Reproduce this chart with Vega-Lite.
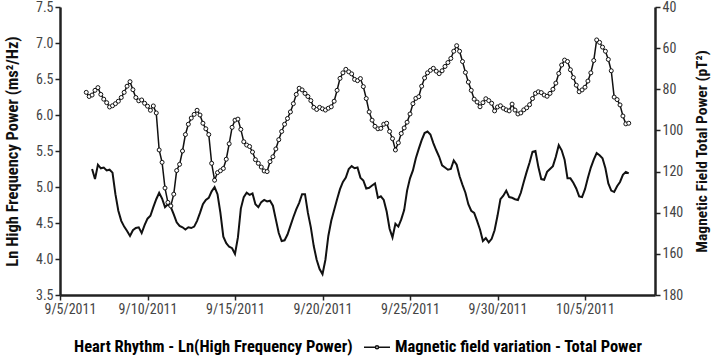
{
  "$schema": "https://vega.github.io/schema/vega-lite/v6.json",
  "width": 595,
  "height": 288,
  "autosize": {"type": "none"},
  "padding": {"left": 60, "top": 7, "right": 65, "bottom": 61},
  "background": "white",
  "config": {
    "view": {"stroke": null},
    "font": "Roboto Condensed, Liberation Sans Narrow, DejaVu Sans Condensed, Roboto, sans-serif",
    "axis": {
      "labelFontSize": 14,
      "labelColor": "#444",
      "domainColor": "#222",
      "domainWidth": 2.5,
      "tickColor": "#222",
      "tickWidth": 1.5,
      "tickSize": 5,
      "grid": false,
      "titleFontSize": 16,
      "titleFontWeight": "bold",
      "titleColor": "#111",
      "labelPadding": 2
    }
  },
  "data": {"values": [
    {"t":"2011-09-06T12:00","mf":81.5,"hr":null},
    {"t":"2011-09-06T16:00","mf":83.5,"hr":null},
    {"t":"2011-09-06T20:00","mf":82.8,"hr":5.25},
    {"t":"2011-09-07T00:00","mf":80.5,"hr":5.11},
    {"t":"2011-09-07T04:00","mf":79.2,"hr":5.31},
    {"t":"2011-09-07T08:00","mf":82.5,"hr":5.26},
    {"t":"2011-09-07T12:00","mf":84.8,"hr":5.27},
    {"t":"2011-09-07T16:00","mf":86.5,"hr":5.23},
    {"t":"2011-09-07T20:00","mf":88.6,"hr":5.24},
    {"t":"2011-09-08T00:00","mf":88.0,"hr":5.20},
    {"t":"2011-09-08T04:00","mf":87.0,"hr":4.90},
    {"t":"2011-09-08T08:00","mf":85.8,"hr":4.67},
    {"t":"2011-09-08T12:00","mf":84.0,"hr":4.53},
    {"t":"2011-09-08T16:00","mf":81.5,"hr":4.45},
    {"t":"2011-09-08T20:00","mf":78.5,"hr":4.39},
    {"t":"2011-09-09T00:00","mf":76.3,"hr":4.32},
    {"t":"2011-09-09T04:00","mf":80.2,"hr":4.40},
    {"t":"2011-09-09T08:00","mf":84.0,"hr":4.43},
    {"t":"2011-09-09T12:00","mf":85.6,"hr":4.44},
    {"t":"2011-09-09T16:00","mf":85.2,"hr":4.36},
    {"t":"2011-09-09T20:00","mf":86.8,"hr":4.47},
    {"t":"2011-09-10T00:00","mf":88.2,"hr":4.56},
    {"t":"2011-09-10T04:00","mf":90.2,"hr":4.60},
    {"t":"2011-09-10T08:00","mf":88.1,"hr":4.72},
    {"t":"2011-09-10T12:00","mf":91.5,"hr":4.83},
    {"t":"2011-09-10T16:00","mf":109.5,"hr":4.92},
    {"t":"2011-09-10T20:00","mf":115.5,"hr":4.84},
    {"t":"2011-09-11T00:00","mf":128.0,"hr":4.72},
    {"t":"2011-09-11T04:00","mf":135.0,"hr":4.76},
    {"t":"2011-09-11T08:00","mf":136.7,"hr":4.72},
    {"t":"2011-09-11T12:00","mf":131.0,"hr":4.62},
    {"t":"2011-09-11T16:00","mf":119.5,"hr":4.51},
    {"t":"2011-09-11T20:00","mf":116.5,"hr":4.46},
    {"t":"2011-09-12T00:00","mf":110.0,"hr":4.44},
    {"t":"2011-09-12T04:00","mf":102.0,"hr":4.41},
    {"t":"2011-09-12T08:00","mf":97.0,"hr":4.44},
    {"t":"2011-09-12T12:00","mf":94.0,"hr":4.43},
    {"t":"2011-09-12T16:00","mf":92.2,"hr":4.45},
    {"t":"2011-09-12T20:00","mf":90.2,"hr":4.53},
    {"t":"2011-09-13T00:00","mf":92.5,"hr":4.64},
    {"t":"2011-09-13T04:00","mf":96.5,"hr":4.76},
    {"t":"2011-09-13T08:00","mf":99.2,"hr":4.82},
    {"t":"2011-09-13T12:00","mf":102.0,"hr":4.85},
    {"t":"2011-09-13T16:00","mf":116.0,"hr":4.94},
    {"t":"2011-09-13T20:00","mf":124.2,"hr":5.00},
    {"t":"2011-09-14T00:00","mf":120.5,"hr":4.90},
    {"t":"2011-09-14T04:00","mf":119.6,"hr":4.64},
    {"t":"2011-09-14T08:00","mf":118.5,"hr":4.31},
    {"t":"2011-09-14T12:00","mf":114.0,"hr":4.22},
    {"t":"2011-09-14T16:00","mf":106.5,"hr":4.17},
    {"t":"2011-09-14T20:00","mf":98.5,"hr":4.15},
    {"t":"2011-09-15T00:00","mf":95.0,"hr":4.07},
    {"t":"2011-09-15T04:00","mf":94.5,"hr":4.30},
    {"t":"2011-09-15T08:00","mf":99.5,"hr":4.70},
    {"t":"2011-09-15T12:00","mf":105.5,"hr":4.86},
    {"t":"2011-09-15T16:00","mf":107.1,"hr":4.92},
    {"t":"2011-09-15T20:00","mf":107.8,"hr":4.89},
    {"t":"2011-09-16T00:00","mf":110.5,"hr":4.91},
    {"t":"2011-09-16T04:00","mf":114.2,"hr":4.76},
    {"t":"2011-09-16T08:00","mf":116.0,"hr":4.72},
    {"t":"2011-09-16T12:00","mf":117.8,"hr":4.79},
    {"t":"2011-09-16T16:00","mf":119.7,"hr":4.82},
    {"t":"2011-09-16T20:00","mf":120.0,"hr":4.80},
    {"t":"2011-09-17T00:00","mf":115.2,"hr":4.81},
    {"t":"2011-09-17T04:00","mf":112.8,"hr":4.74},
    {"t":"2011-09-17T08:00","mf":109.0,"hr":4.55},
    {"t":"2011-09-17T12:00","mf":104.5,"hr":4.36},
    {"t":"2011-09-17T16:00","mf":100.5,"hr":4.25},
    {"t":"2011-09-17T20:00","mf":97.0,"hr":4.26},
    {"t":"2011-09-18T00:00","mf":94.2,"hr":4.34},
    {"t":"2011-09-18T04:00","mf":91.0,"hr":4.46},
    {"t":"2011-09-18T08:00","mf":87.0,"hr":4.58},
    {"t":"2011-09-18T12:00","mf":82.5,"hr":4.69},
    {"t":"2011-09-18T16:00","mf":79.5,"hr":4.78},
    {"t":"2011-09-18T20:00","mf":80.3,"hr":4.90},
    {"t":"2011-09-19T00:00","mf":82.0,"hr":4.90},
    {"t":"2011-09-19T04:00","mf":83.5,"hr":4.64},
    {"t":"2011-09-19T08:00","mf":85.5,"hr":4.44},
    {"t":"2011-09-19T12:00","mf":88.8,"hr":4.18},
    {"t":"2011-09-19T16:00","mf":89.8,"hr":3.99},
    {"t":"2011-09-19T20:00","mf":88.8,"hr":3.86},
    {"t":"2011-09-20T00:00","mf":89.5,"hr":3.79},
    {"t":"2011-09-20T04:00","mf":90.1,"hr":3.99},
    {"t":"2011-09-20T08:00","mf":89.2,"hr":4.32},
    {"t":"2011-09-20T12:00","mf":88.5,"hr":4.53},
    {"t":"2011-09-20T16:00","mf":85.8,"hr":4.68},
    {"t":"2011-09-20T20:00","mf":80.5,"hr":4.83},
    {"t":"2011-09-21T00:00","mf":74.7,"hr":4.97},
    {"t":"2011-09-21T04:00","mf":72.0,"hr":5.07},
    {"t":"2011-09-21T08:00","mf":70.3,"hr":5.13},
    {"t":"2011-09-21T12:00","mf":71.5,"hr":5.25},
    {"t":"2011-09-21T16:00","mf":72.5,"hr":5.29},
    {"t":"2011-09-21T20:00","mf":75.2,"hr":5.26},
    {"t":"2011-09-22T00:00","mf":75.8,"hr":5.27},
    {"t":"2011-09-22T04:00","mf":74.8,"hr":5.13},
    {"t":"2011-09-22T08:00","mf":78.7,"hr":5.09},
    {"t":"2011-09-22T12:00","mf":84.5,"hr":4.98},
    {"t":"2011-09-22T16:00","mf":91.0,"hr":4.99},
    {"t":"2011-09-22T20:00","mf":95.0,"hr":5.02},
    {"t":"2011-09-23T00:00","mf":98.0,"hr":5.05},
    {"t":"2011-09-23T04:00","mf":99.2,"hr":4.85},
    {"t":"2011-09-23T08:00","mf":99.0,"hr":4.87},
    {"t":"2011-09-23T12:00","mf":97.0,"hr":4.82},
    {"t":"2011-09-23T16:00","mf":96.5,"hr":4.66},
    {"t":"2011-09-23T20:00","mf":100.5,"hr":4.42},
    {"t":"2011-09-24T00:00","mf":104.0,"hr":4.30},
    {"t":"2011-09-24T04:00","mf":109.5,"hr":4.49},
    {"t":"2011-09-24T08:00","mf":106.0,"hr":4.45},
    {"t":"2011-09-24T12:00","mf":101.5,"hr":4.55},
    {"t":"2011-09-24T16:00","mf":98.8,"hr":4.68},
    {"t":"2011-09-24T20:00","mf":96.0,"hr":4.95},
    {"t":"2011-09-25T00:00","mf":92.0,"hr":5.12},
    {"t":"2011-09-25T04:00","mf":87.0,"hr":5.23},
    {"t":"2011-09-25T08:00","mf":84.4,"hr":5.40},
    {"t":"2011-09-25T12:00","mf":83.6,"hr":5.53},
    {"t":"2011-09-25T16:00","mf":78.5,"hr":5.65},
    {"t":"2011-09-25T20:00","mf":74.5,"hr":5.75},
    {"t":"2011-09-26T00:00","mf":72.0,"hr":5.77},
    {"t":"2011-09-26T04:00","mf":70.8,"hr":5.73},
    {"t":"2011-09-26T08:00","mf":69.8,"hr":5.61},
    {"t":"2011-09-26T12:00","mf":71.2,"hr":5.51},
    {"t":"2011-09-26T16:00","mf":72.4,"hr":5.42},
    {"t":"2011-09-26T20:00","mf":71.0,"hr":5.30},
    {"t":"2011-09-27T00:00","mf":68.9,"hr":5.27},
    {"t":"2011-09-27T04:00","mf":67.0,"hr":5.24},
    {"t":"2011-09-27T08:00","mf":65.0,"hr":5.25},
    {"t":"2011-09-27T12:00","mf":61.5,"hr":5.37},
    {"t":"2011-09-27T16:00","mf":58.8,"hr":5.31},
    {"t":"2011-09-27T20:00","mf":61.5,"hr":5.15},
    {"t":"2011-09-28T00:00","mf":66.5,"hr":5.03},
    {"t":"2011-09-28T04:00","mf":71.8,"hr":4.92},
    {"t":"2011-09-28T08:00","mf":76.5,"hr":4.76},
    {"t":"2011-09-28T12:00","mf":80.5,"hr":4.67},
    {"t":"2011-09-28T16:00","mf":84.8,"hr":4.64},
    {"t":"2011-09-28T20:00","mf":86.2,"hr":4.53},
    {"t":"2011-09-29T00:00","mf":88.5,"hr":4.41},
    {"t":"2011-09-29T04:00","mf":86.5,"hr":4.25},
    {"t":"2011-09-29T08:00","mf":84.6,"hr":4.29},
    {"t":"2011-09-29T12:00","mf":85.5,"hr":4.23},
    {"t":"2011-09-29T16:00","mf":86.8,"hr":4.28},
    {"t":"2011-09-29T20:00","mf":90.5,"hr":4.40},
    {"t":"2011-09-30T00:00","mf":88.6,"hr":4.60},
    {"t":"2011-09-30T04:00","mf":88.0,"hr":4.83},
    {"t":"2011-09-30T08:00","mf":89.2,"hr":4.88},
    {"t":"2011-09-30T12:00","mf":90.0,"hr":4.95},
    {"t":"2011-09-30T16:00","mf":90.5,"hr":4.86},
    {"t":"2011-09-30T20:00","mf":87.2,"hr":4.85},
    {"t":"2011-10-01T00:00","mf":90.1,"hr":4.83},
    {"t":"2011-10-01T04:00","mf":92.0,"hr":4.82},
    {"t":"2011-10-01T08:00","mf":91.5,"hr":4.92},
    {"t":"2011-10-01T12:00","mf":90.0,"hr":5.07},
    {"t":"2011-10-01T16:00","mf":89.0,"hr":5.21},
    {"t":"2011-10-01T20:00","mf":87.5,"hr":5.34},
    {"t":"2011-10-02T00:00","mf":84.5,"hr":5.49},
    {"t":"2011-10-02T04:00","mf":82.0,"hr":5.50},
    {"t":"2011-10-02T08:00","mf":81.2,"hr":5.28},
    {"t":"2011-10-02T12:00","mf":81.6,"hr":5.11},
    {"t":"2011-10-02T16:00","mf":82.8,"hr":5.10},
    {"t":"2011-10-02T20:00","mf":83.4,"hr":5.21},
    {"t":"2011-10-03T00:00","mf":82.0,"hr":5.25},
    {"t":"2011-10-03T04:00","mf":80.0,"hr":5.29},
    {"t":"2011-10-03T08:00","mf":77.0,"hr":5.42},
    {"t":"2011-10-03T12:00","mf":72.3,"hr":5.58},
    {"t":"2011-10-03T16:00","mf":68.2,"hr":5.51},
    {"t":"2011-10-03T20:00","mf":65.8,"hr":5.38},
    {"t":"2011-10-04T00:00","mf":66.5,"hr":5.12},
    {"t":"2011-10-04T04:00","mf":70.5,"hr":5.12},
    {"t":"2011-10-04T08:00","mf":74.3,"hr":5.06},
    {"t":"2011-10-04T12:00","mf":78.0,"hr":4.98},
    {"t":"2011-10-04T16:00","mf":81.2,"hr":4.87},
    {"t":"2011-10-04T20:00","mf":80.3,"hr":4.86},
    {"t":"2011-10-05T00:00","mf":79.0,"hr":4.97},
    {"t":"2011-10-05T04:00","mf":76.0,"hr":5.13},
    {"t":"2011-10-05T08:00","mf":72.0,"hr":5.27},
    {"t":"2011-10-05T12:00","mf":66.0,"hr":5.38},
    {"t":"2011-10-05T16:00","mf":56.0,"hr":5.47},
    {"t":"2011-10-05T20:00","mf":57.2,"hr":5.44},
    {"t":"2011-10-06T00:00","mf":59.5,"hr":5.40},
    {"t":"2011-10-06T04:00","mf":61.5,"hr":5.26},
    {"t":"2011-10-06T08:00","mf":65.5,"hr":5.05},
    {"t":"2011-10-06T12:00","mf":71.0,"hr":4.95},
    {"t":"2011-10-06T16:00","mf":83.8,"hr":4.93},
    {"t":"2011-10-06T20:00","mf":85.0,"hr":5.01},
    {"t":"2011-10-07T00:00","mf":87.6,"hr":5.07},
    {"t":"2011-10-07T04:00","mf":93.0,"hr":5.17},
    {"t":"2011-10-07T08:00","mf":96.8,"hr":5.21},
    {"t":"2011-10-07T12:00","mf":96.5,"hr":5.19}
  ]},
  "encoding": {
    "x": {
      "field": "t",
      "type": "temporal",
      "scale": {"domain": [{"year": 2011, "month": 9, "date": 5}, {"year": 2011, "month": 10, "date": 9}]},
      "axis": {
        "title": null,
        "format": "%-m/%-d/%Y",
        "values": [
          {"year": 2011, "month": 9, "date": 5},
          {"year": 2011, "month": 9, "date": 10},
          {"year": 2011, "month": 9, "date": 15},
          {"year": 2011, "month": 9, "date": 20},
          {"year": 2011, "month": 9, "date": 25},
          {"year": 2011, "month": 9, "date": 30},
          {"year": 2011, "month": 10, "date": 5}
        ],
        "labelFlush": true,
        "labelFlushOffset": 16
      }
    }
  },
  "layer": [
    {
      "mark": {"type": "line", "strokeWidth": 2},
      "encoding": {
        "y": {
          "field": "hr",
          "type": "quantitative",
          "scale": {"domain": [3.5, 7.5], "nice": false, "zero": false},
          "axis": {
            "title": "Ln High Frequency Power (ms²/Hz)",
            "titleFontSize": 16.5,
            "values": [3.5, 4, 4.5, 5, 5.5, 6, 6.5, 7, 7.5],
            "format": ".1f",
            "titlePadding": 15
          }
        },
        "color": {
          "datum": "Heart Rhythm - Ln(High Frequency Power)",
          "scale": {"range": ["#111111", "#111111"]},
          "legend": {
            "orient": "none",
            "legendX": -18,
            "legendY": 326,
            "direction": "horizontal",
            "title": null,
            "labelFontSize": 16.5,
            "labelFontWeight": "bold",
            "labelColor": "#000",
            "labelLimit": 600,
            "symbolSize": 676,
            "symbolStrokeWidth": 1.5,
            "symbolType": "M-1,0L-0.12,0M0.12,0L1,0M-0.12,0A0.12,0.12,0,1,1,0.12,0A0.12,0.12,0,1,1,-0.12,0",
            "columnPadding": 8,
            "labelOffset": 4,
            "encode": {
              "symbols": {"update": {"opacity": {"signal": "indexof(datum.value, 'Magnetic') === 0 ? 1 : 0"}}}
            }
          }
        }
      }
    },
    {
      "mark": {
        "type": "line",
        "strokeWidth": 1.5,
        "point": {"filled": false, "fill": "white", "size": 16, "strokeWidth": 1}
      },
      "encoding": {
        "y": {
          "field": "mf",
          "type": "quantitative",
          "scale": {"domain": [40, 180], "reverse": true, "nice": false, "zero": false},
          "axis": {
            "orient": "right",
            "title": "Magnetic Field Total Power (pT²)",
            "titleFontSize": 15.5,
            "values": [40, 60, 80, 100, 120, 140, 160, 180],
            "titleAngle": 270,
            "titlePadding": 27
          }
        },
        "color": {"datum": "Magnetic field variation - Total Power"}
      }
    }
  ],
  "resolve": {"scale": {"y": "independent"}}
}
